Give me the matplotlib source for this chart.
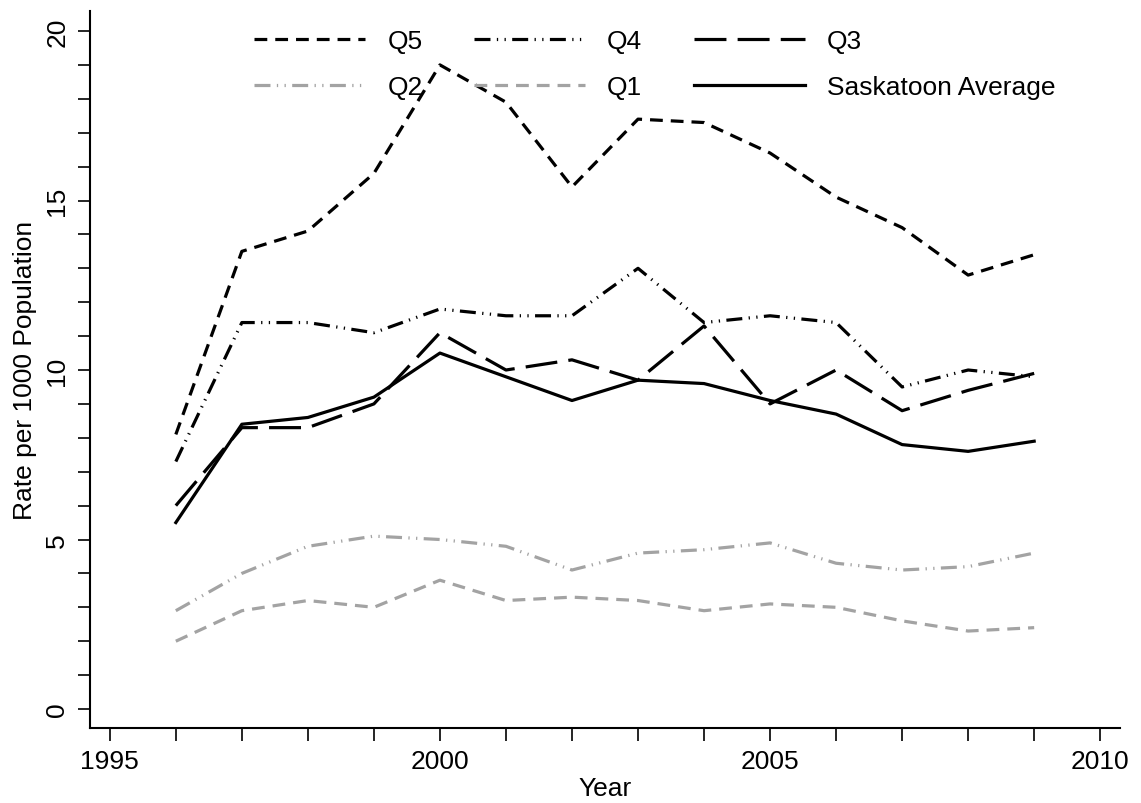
import matplotlib.pyplot as plt
from matplotlib.ticker import MultipleLocator

years = list(range(1996, 2010))
q5 = [8.1, 13.5, 14.1, 15.8, 19.0, 17.9, 15.4, 17.4, 17.3, 16.4, 15.1, 14.2, 12.8, 13.4]
q4 = [7.3, 11.4, 11.4, 11.1, 11.8, 11.6, 11.6, 13.0, 11.4, 11.6, 11.4, 9.5, 10.0, 9.8]
q3 = [6.0, 8.3, 8.3, 9.0, 11.1, 10.0, 10.3, 9.7, 11.3, 9.0, 10.0, 8.8, 9.4, 9.9]
q2 = [2.9, 4.0, 4.8, 5.1, 5.0, 4.8, 4.1, 4.6, 4.7, 4.9, 4.3, 4.1, 4.2, 4.6]
q1 = [2.0, 2.9, 3.2, 3.0, 3.8, 3.2, 3.3, 3.2, 2.9, 3.1, 3.0, 2.6, 2.3, 2.4]
avg = [5.5, 8.4, 8.6, 9.2, 10.5, 9.8, 9.1, 9.7, 9.6, 9.1, 8.7, 7.8, 7.6, 7.9]

plt.rcParams['font.family'] = ['Liberation Sans', 'DejaVu Sans']
gray = '#a3a3a3'
lw = 2.3
fs = 19

fig = plt.figure(figsize=(11.41, 8.04), dpi=100)
ax = fig.add_axes([90 / 1141, 75 / 804, 1030 / 1141, 717 / 804])

l5, = ax.plot(years, q5, color='black', lw=lw, dashes=(4, 2.5), label='Q5')
l4, = ax.plot(years, q4, color='black', lw=lw, dashes=(5, 2, 0.4, 2, 0.4, 2), label='Q4')
l3, = ax.plot(years, q3, color='black', lw=lw, dashes=(10, 3.5), label='Q3')
l2, = ax.plot(years, q2, color=gray, lw=lw, dashes=(5, 2, 0.4, 2, 0.4, 2), label='Q2')
l1, = ax.plot(years, q1, color=gray, lw=lw, dashes=(4, 2.5), label='Q1')
la, = ax.plot(years, avg, color='black', lw=lw, label='Saskatoon Average')

ax.set_xlim(1994.7, 2010.3)
ax.set_ylim(-0.56, 20.59)
ax.xaxis.set_major_locator(MultipleLocator(5))
ax.xaxis.set_minor_locator(MultipleLocator(1))
ax.yaxis.set_major_locator(MultipleLocator(5))
ax.yaxis.set_minor_locator(MultipleLocator(1))
for s in ['top', 'right']:
    ax.spines[s].set_visible(False)
for s in ['left', 'bottom']:
    ax.spines[s].set_linewidth(1.5)
ax.tick_params(which='both', length=9, width=1.2, labelsize=fs, pad=6)
plt.setp(ax.get_yticklabels(), rotation=90, va='center')

ax.set_xlabel('Year', fontsize=fs, labelpad=2)
ax.set_ylabel('Rate per 1000 Population', fontsize=fs, labelpad=6)

fig.legend(handles=[l5, l2, l4, l1, l3, la], ncol=3, frameon=False, fontsize=fs,
           loc='upper left', bbox_to_anchor=(254 / 1141, 1 - 30 / 804),
           borderpad=0, borderaxespad=0, handlelength=4.2,
           columnspacing=1.95, labelspacing=0.85, handletextpad=0.85)

fig.savefig('out.png', dpi=100)
